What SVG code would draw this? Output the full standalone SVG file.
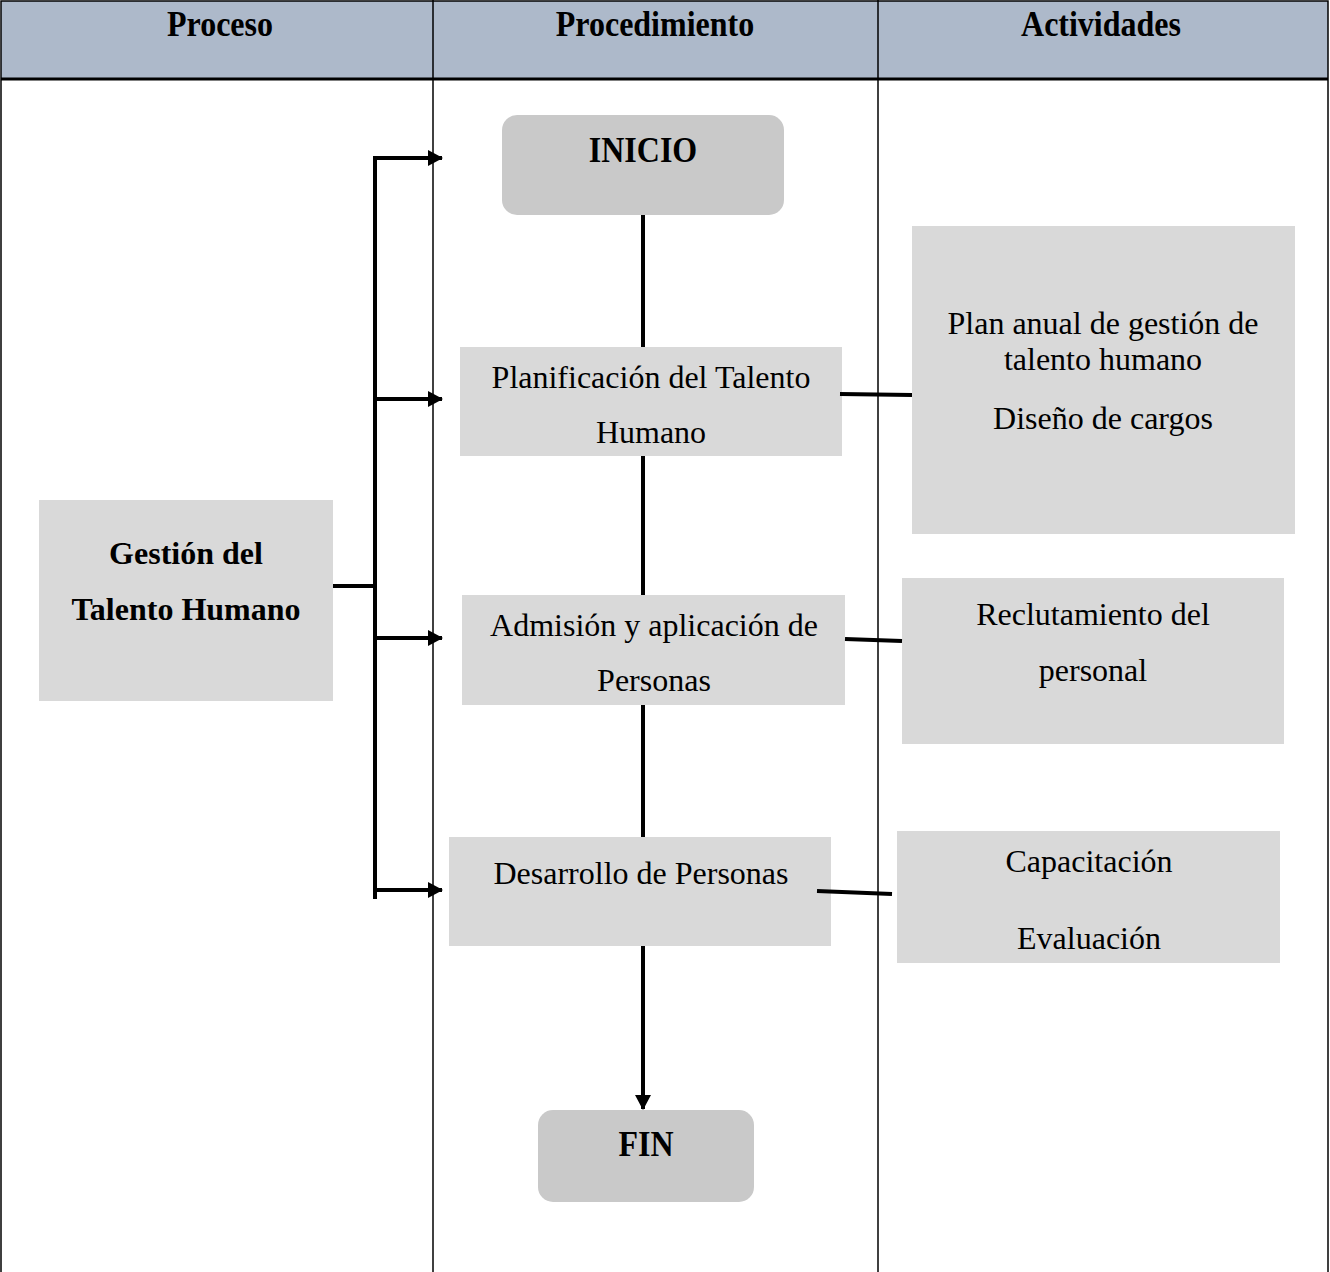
<svg xmlns="http://www.w3.org/2000/svg" width="1330" height="1272" viewBox="0 0 1330 1272">
<style>
.t{font-family:"Liberation Serif","Times New Roman",serif;font-size:32px;fill:#000;text-anchor:middle}
.b{font-weight:bold}
.box{fill:#d9d9d9}
.term{fill:#c9c9c9}
.ln{stroke:#000;stroke-width:4;fill:none}
.grid{stroke:#000;stroke-width:1.5;fill:none}
</style>
<defs>
<marker id="ah" viewBox="0 0 15 16" markerWidth="15" markerHeight="16" refX="14" refY="8" orient="auto" markerUnits="userSpaceOnUse">
<path d="M0,0 L15,8 L0,16 Z" fill="#000"/>
</marker>
</defs>
<g id="table">
<rect x="1" y="1" width="1327" height="78" fill="#adb9ca"/>
<rect x="1" y="1" width="1327" height="1272" class="grid"/>
<line x1="1" y1="79" x2="1328" y2="79" stroke="#000" stroke-width="3"/>
<line x1="433" y1="0" x2="433" y2="1272" class="grid"/>
<line x1="878" y1="0" x2="878" y2="1272" class="grid"/>
<text class="t b" x="220" y="36" transform="translate(0,-3.6) scale(1,1.1)">Proceso</text>
<text class="t b" x="655" y="36" transform="translate(0,-3.6) scale(1,1.1)">Procedimiento</text>
<text class="t b" x="1101" y="36" transform="translate(0,-3.6) scale(1,1.1)">Actividades</text>
</g>
<g id="inicio">
<rect class="term" x="502" y="115" width="282" height="100" rx="15"/>
<text class="t b" x="643" y="162" transform="translate(0,-16.2) scale(1,1.1)">INICIO</text>
</g>
<g id="planificacion">
<rect class="box" x="460" y="347" width="382" height="109"/>
<text class="t" x="651" y="388">Planificación del Talento</text>
<text class="t" x="651" y="443">Humano</text>
</g>
<g id="admision">
<rect class="box" x="462" y="595" width="383" height="110"/>
<text class="t" x="654" y="636">Admisión y aplicación de</text>
<text class="t" x="654" y="691">Personas</text>
</g>
<g id="desarrollo">
<rect class="box" x="449" y="837" width="382" height="109"/>
<text class="t" x="641" y="884">Desarrollo de Personas</text>
</g>
<g id="fin">
<rect class="term" x="538" y="1110" width="216" height="92" rx="15"/>
<text class="t b" x="646" y="1156" transform="translate(0,-115.6) scale(1,1.1)">FIN</text>
</g>
<g id="gestion">
<rect class="box" x="39" y="500" width="294" height="201"/>
<text class="t b" x="186" y="564">Gestión del</text>
<text class="t b" x="186" y="620">Talento Humano</text>
</g>
<g id="act1">
<rect class="box" x="912" y="226" width="383" height="308"/>
<text class="t" x="1103" y="334">Plan anual de gestión de</text>
<text class="t" x="1103" y="370">talento humano</text>
<text class="t" x="1103" y="429">Diseño de cargos</text>
</g>
<g id="act2">
<rect class="box" x="902" y="578" width="382" height="166"/>
<text class="t" x="1093" y="625">Reclutamiento del</text>
<text class="t" x="1093" y="681">personal</text>
</g>
<g id="act3">
<rect class="box" x="897" y="831" width="383" height="132"/>
<text class="t" x="1089" y="872">Capacitación</text>
<text class="t" x="1089" y="949">Evaluación</text>
</g>
<g id="connectors">
<line class="ln" x1="643" y1="215" x2="643" y2="347"/>
<line class="ln" x1="643" y1="456" x2="643" y2="595"/>
<line class="ln" x1="643" y1="705" x2="643" y2="837"/>
<line class="ln" x1="643" y1="946" x2="643" y2="1109" marker-end="url(#ah)"/>
<line class="ln" x1="333" y1="586" x2="373" y2="586"/>
<line class="ln" x1="375" y1="156" x2="375" y2="899"/>
<line class="ln" x1="373" y1="158" x2="442" y2="158" marker-end="url(#ah)"/>
<line class="ln" x1="373" y1="399" x2="442" y2="399" marker-end="url(#ah)"/>
<line class="ln" x1="373" y1="638" x2="442" y2="638" marker-end="url(#ah)"/>
<line class="ln" x1="373" y1="890" x2="442" y2="890" marker-end="url(#ah)"/>
<line class="ln" x1="840" y1="394" x2="912" y2="395"/>
<line class="ln" x1="845" y1="639" x2="902" y2="641"/>
<line class="ln" x1="817" y1="891" x2="892" y2="894"/>
</g>
</svg>
